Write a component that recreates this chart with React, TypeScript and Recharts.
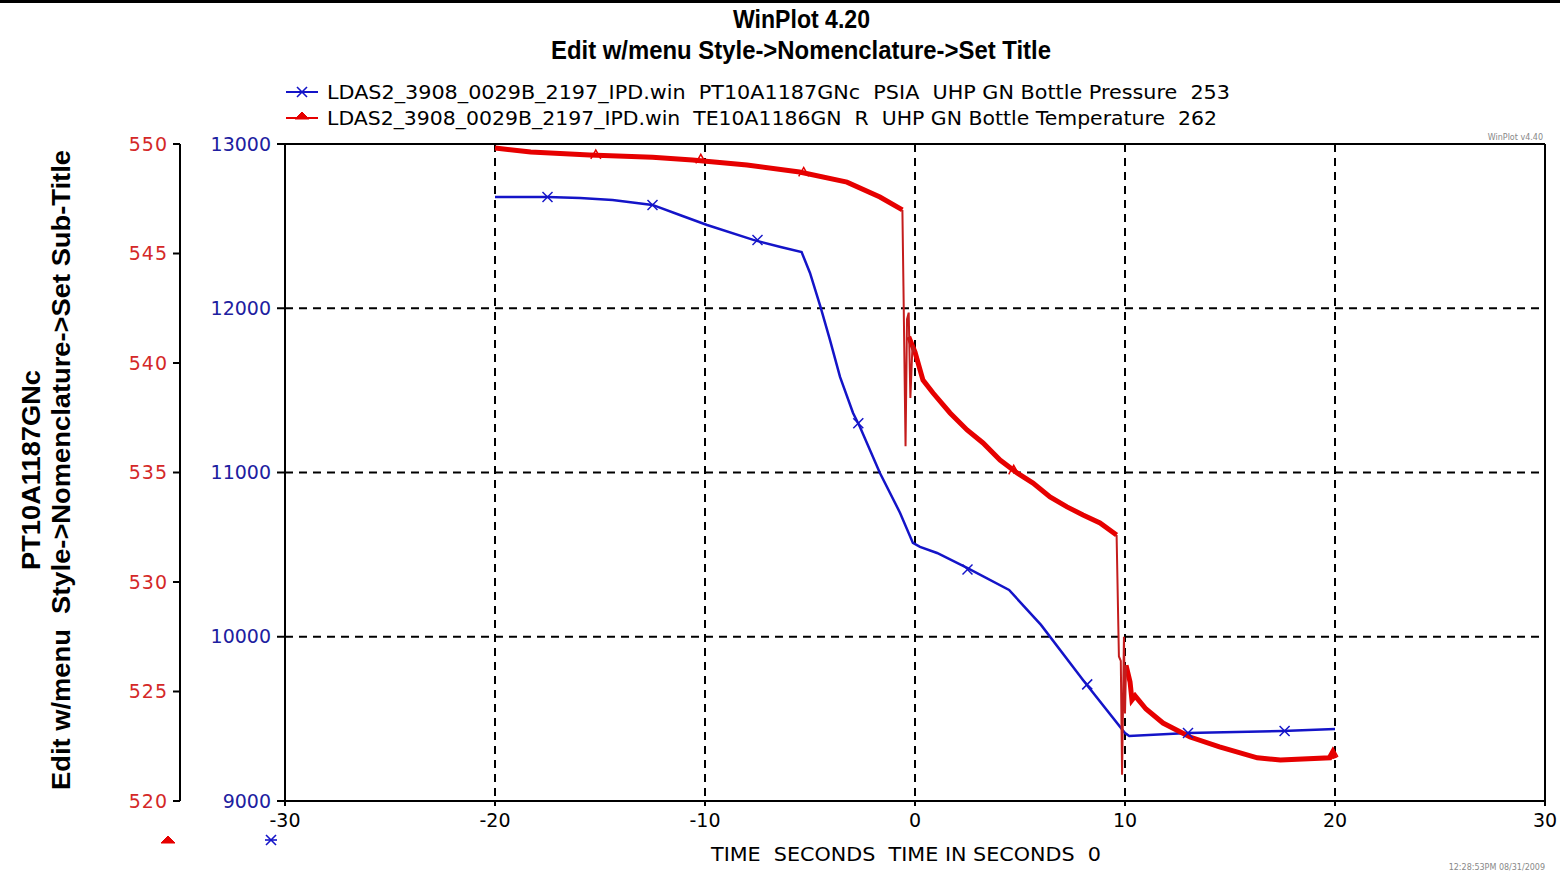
// @ts-nocheck
import React from 'react';
import { ComposedChart, Line, XAxis, YAxis, CartesianGrid, ReferenceLine } from 'recharts';

const xTicks = [-30, -20, -10, 0, 10, 20, 30];
const pressureTicks = [9000, 10000, 11000, 12000, 13000];
const tempTicks = [520, 525, 530, 535, 540, 545, 550];

// PT10A1187GNc, psia
const pressT = [-20, -17.5, -15.95, -14.4, -12.5, -11.2, -9.9, -7.7, -6.4, -5.4, -5.0, -4.5, -4.05, -3.57, -2.95, -2.62, -1.67, -0.71, -0.1, 0.24, 1.05, 2.48, 4.48, 6.0, 8.0, 10.0, 10.2, 13.0, 17.5, 20.0];
const pressV = [12677, 12677, 12671, 12659, 12629, 12568, 12507, 12416, 12373, 12342, 12215, 12008, 11807, 11582, 11362, 11277, 10997, 10754, 10571, 10547, 10510, 10419, 10285, 10072, 9737, 9414, 9396, 9414, 9426, 9439];
const pressMarkT = [-17.5, -12.5, -7.5, -2.7, 2.5, 8.2, 13, 17.6];
const pressMarkV = [12677, 12629, 12416, 11300, 10410, 9710, 9414, 9426];

// TE10A1186GN, R (null = gap where the thin spike trace takes over)
const tempT = [-20, -18.3, -15.5, -12.5, -10.6, -8.0, -5.5, -3.24, -1.67, -0.6, -0.45, -0.3, 0.0, 0.38, 0.86, 1.67, 2.48, 3.24, 4.05, 4.86, 5.62, 6.43, 7.24, 8.0, 8.81, 9.6, 9.8, 10.05, 10.24, 10.33, 10.48, 11.0, 11.81, 13.1, 14.5, 16.3, 17.4, 19.76, 19.9, 20];
const tempV = [549.82, 549.63, 549.5, 549.4, 549.27, 549.04, 548.72, 548.26, 547.58, 546.99, null, 541.2, 540.5, 539.22, 538.63, 537.72, 536.94, 536.35, 535.57, 534.98, 534.52, 533.88, 533.43, 533.06, 532.7, 532.15, null, 526.2, 525.44, 524.61, 524.8, 524.2, 523.56, 522.92, 522.47, 521.97, 521.87, 521.97, 522.2, 521.95];
const spike1T = [-0.6, -0.55, -0.45, -0.38, -0.3, -0.22, -0.12, 0.0];
const spike1V = [546.99, 543.5, 536.2, 542.0, 542.3, 538.4, 540.8, 540.5];
const spike2T = [9.6, 9.71, 9.8, 9.86, 9.95, 10.0, 10.05];
const spike2V = [532.15, 526.6, 526.4, 521.2, 527.5, 524.0, 526.2];
const tempMarkT = [-15.2, -10.2, -5.3, 4.7, 19.9];
const tempMarkV = [549.5, 549.3, 548.7, 535.1, 522.2];

const zip = (ts, vs) => ts.map((t, i) => ({ t, v: vs[i] }));
const pressData = zip(pressT, pressV);
const pressMarks = zip(pressMarkT, pressMarkV);
const tempData = zip(tempT, tempV);
const spike1Data = zip(spike1T, spike1V);
const spike2Data = zip(spike2T, spike2V);
const tempMarks = zip(tempMarkT, tempMarkV);

const BLUE = '#1414c8';
const RED = '#e60000';
const DARKRED = '#c41c1c';
const tickFont = "'DejaVu Sans', Verdana, sans-serif";
const boldFont = "'Liberation Sans Narrow', 'Liberation Sans', Arial, sans-serif";

const XMark = ({ cx, cy, color = BLUE }) =>
  cx == null ? null : (
    <g stroke={color} strokeWidth={1.5}>
      <line x1={cx - 5} y1={cy - 5} x2={cx + 5} y2={cy + 5} />
      <line x1={cx - 5} y1={cy + 5} x2={cx + 5} y2={cy - 5} />
    </g>
  );

const Tri = ({ cx, cy, color = RED }) =>
  cx == null ? null : (
    <path d={`M${cx - 5},${cy + 4} L${cx},${cy - 5} L${cx + 5},${cy + 4}`} fill="none" stroke={color} strokeWidth={1.5} />
  );

const Asterisk = ({ x, y }) => (
  <g stroke={BLUE} strokeWidth={1.6}>
    <line x1={x - 6} y1={y} x2={x + 6} y2={y} />
    <line x1={x - 5} y1={y - 5} x2={x + 5} y2={y + 5} />
    <line x1={x - 5} y1={y + 5} x2={x + 5} y2={y - 5} />
  </g>
);

const Triangle = ({ x, y }) => (
  <path d={`M${x - 7},${y + 1} L${x + 7},${y + 1} L${x},${y - 6} Z`} fill={RED} stroke={RED} strokeWidth={1} />
);

const fit = { lengthAdjust: 'spacingAndGlyphs' };

export default function App() {
  return (
    <div style={{ position: 'relative', width: 1560, height: 874, background: '#fff', overflow: 'hidden' }}>
      <style>{'body{margin:0}'}</style>
      <div style={{ position: 'absolute', left: 0, top: 0, width: 1560, height: 3, background: '#000' }} />
      <ComposedChart width={1560} height={874} margin={{ top: 144, right: 15, bottom: 43, left: 120 }}>
        <CartesianGrid yAxisId="p" stroke="#000" strokeWidth={2} strokeDasharray="8 6" />
        <XAxis
          dataKey="t"
          type="number"
          domain={[-30, 30]}
          ticks={xTicks}
          allowDataOverflow
          stroke="#000"
          strokeWidth={2}
          tickSize={5}
          tickMargin={8}
          height={30}
          tick={{ fontSize: 19, fill: '#000', fontFamily: tickFont }}
        />
        <YAxis
          yAxisId="p"
          domain={[9000, 13000]}
          ticks={pressureTicks}
          width={105}
          stroke="#000"
          strokeWidth={2}
          tickSize={8}
          tickMargin={6}
          tick={{ fontSize: 19, fill: '#2020a0', fontFamily: tickFont }}
        />
        <YAxis
          yAxisId="r"
          domain={[520, 550]}
          ticks={tempTicks}
          width={60}
          stroke="#000"
          strokeWidth={2}
          tickSize={7}
          tickMargin={5}
          tick={{ fontSize: 19, fill: '#d42828', fontFamily: tickFont, letterSpacing: 1 }}
        />
        <ReferenceLine yAxisId="p" y={13000} stroke="#000" strokeWidth={2} />
        <ReferenceLine yAxisId="p" x={30} stroke="#000" strokeWidth={2} />
        <Line yAxisId="p" data={pressData} dataKey="v" stroke={BLUE} strokeWidth={2.5} dot={false} isAnimationActive={false} />
        <Line yAxisId="p" data={pressMarks} dataKey="v" stroke="none" dot={<XMark />} isAnimationActive={false} />
        <Line yAxisId="r" data={tempData} dataKey="v" stroke={RED} strokeWidth={5} dot={false} isAnimationActive={false} />
        <Line yAxisId="r" data={spike1Data} dataKey="v" stroke={DARKRED} strokeWidth={2} dot={false} isAnimationActive={false} />
        <Line yAxisId="r" data={spike2Data} dataKey="v" stroke={DARKRED} strokeWidth={2} dot={false} isAnimationActive={false} />
        <Line yAxisId="r" data={tempMarks} dataKey="v" stroke="none" dot={<Tri />} isAnimationActive={false} />
      </ComposedChart>
      <svg width={1560} height={874} style={{ position: 'absolute', left: 0, top: 0, pointerEvents: 'none' }}>
        <text x={733} y={28} textLength={137} {...fit} fontFamily={boldFont} fontWeight="bold" fontSize={25} fill="#000">WinPlot 4.20</text>
        <text x={551} y={59} textLength={500} {...fit} fontFamily={boldFont} fontWeight="bold" fontSize={25} fill="#000">Edit w/menu Style-&gt;Nomenclature-&gt;Set Title</text>

        <line x1={286} y1={92} x2={318} y2={92} stroke={BLUE} strokeWidth={2} />
        <Asterisk x={302} y={92} />
        <text x={327} y={99} textLength={903} {...fit} fontFamily={tickFont} fontSize={19} fill="#000" style={{ whiteSpace: 'pre' }}>
          {'LDAS2_3908_0029B_2197_IPD.win  PT10A1187GNc  PSIA  UHP GN Bottle Pressure  253'}
        </text>
        <line x1={286} y1={118} x2={318} y2={118} stroke={RED} strokeWidth={2} />
        <Triangle x={302} y={118} />
        <text x={327} y={125} textLength={890} {...fit} fontFamily={tickFont} fontSize={19} fill="#000" style={{ whiteSpace: 'pre' }}>
          {'LDAS2_3908_0029B_2197_IPD.win  TE10A1186GN  R  UHP GN Bottle Temperature  262'}
        </text>

        <text x={1543} y={140} textAnchor="end" fontFamily={tickFont} fontSize={8} fill="#888">WinPlot v4.40</text>
        <text x={1545} y={870} textAnchor="end" fontFamily={tickFont} fontSize={8} fill="#888">12:28:53PM 08/31/2009</text>

        <text transform="translate(40,570) rotate(-90)" textLength={200} {...fit} fontFamily={boldFont} fontWeight="bold" fontSize={26} fill="#000">PT10A1187GNc</text>
        <text transform="translate(70,790) rotate(-90)" textLength={640} {...fit} fontFamily={boldFont} fontWeight="bold" fontSize={26} fill="#000" style={{ whiteSpace: 'pre' }}>
          {'Edit w/menu  Style->Nomenclature->Set Sub-Title'}
        </text>

        <text x={711} y={861} textLength={390} {...fit} fontFamily={tickFont} fontSize={19} fill="#000" style={{ whiteSpace: 'pre' }}>
          {'TIME  SECONDS  TIME IN SECONDS  0'}
        </text>
        <Triangle x={168} y={842} />
        <Asterisk x={271} y={840} />
      </svg>
    </div>
  );
}
